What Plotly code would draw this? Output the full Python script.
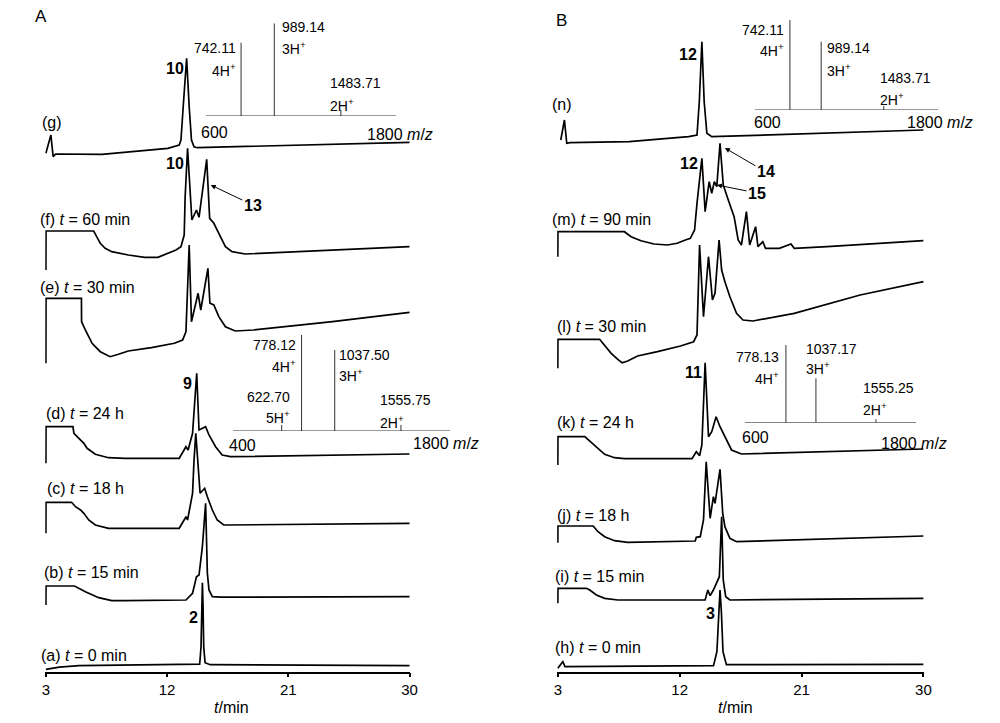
import plotly.graph_objects as go

# ---- panel A chromatograms (t in min, signal stacked above the axis) ----
a_t = [3.0, 4.0, 5.45, 9.0, 14.0, 14.42, 14.52, 14.57, 14.62, 14.67, 14.72, 14.82, 15.2, 30.0]
a_y = [2.4, 4.5, 6.0, 6.5, 6.7, 7.5, 25, 65, 89, 65, 25, 9, 7, 6.0]

b_t = [3.0, 3.01, 5.13, 5.93, 6.92, 7.89, 8.87, 13.4, 13.89, 14.18, 14.37, 14.62, 14.86, 14.99,
       15.11, 15.36, 16.0, 30.0]
b_y = [66.7, 85.7, 85.7, 80, 74, 71, 71, 71.7, 78.4, 95, 96.7, 125, 168.4, 98.4,
       81.7, 75, 74.5, 75]

c_t = [3.0, 3.01, 4.91, 5.2, 5.57, 5.82, 6.18, 6.67, 7.65, 12.9, 13.34, 13.4, 13.52, 13.89, 14.0,
       14.13, 14.45, 14.79, 14.99, 15.36, 15.72, 16.21, 16.46, 30.0]
c_y = [138.4, 169.4, 169.4, 165, 161.7, 158.4, 151.7, 146.7, 143.4, 143.4, 153.4, 155, 151.7, 178.4, 211.7,
       238.4, 178.4, 183.4, 175, 161.7, 151.7, 146.7, 146.7, 148.4]

d_t = [3.0, 3.01, 5.01, 5.08, 5.45, 5.82, 6.06, 6.67, 7.65, 8.87, 12.9, 13.4, 13.56, 13.89, 14.2,
       14.37, 14.86, 15.11, 15.6, 16.09, 16.7, 30.0]
d_y = [208.4, 245, 245, 238.4, 233.4, 228.4, 223.4, 217.4, 214, 213.4, 213.4, 225, 221.7, 238.4, 298.4,
       241.7, 245, 236.7, 225, 216.7, 215, 217.7]

e_t = [3.0, 3.01, 5.64, 5.65, 5.93, 6.43, 7.04, 7.77, 8.39, 9.12, 10.83, 12.54, 13.15, 13.4, 13.64,
       13.81, 14.3, 14.5, 15.03, 15.18, 15.47, 15.84, 16.33, 17.06, 18.41, 24.28, 30.0]
e_y = [308.4, 373.4, 373.4, 350, 341.7, 328.4, 320, 315, 317.4, 320.7, 324, 328.4, 331.7, 340, 426.7,
       350, 378.4, 361.7, 403.4, 368.4, 366.7, 355, 345, 340.7, 341.7, 350, 359.4]

f_t = [3.0, 3.01, 6.55, 6.79, 7.04, 7.4, 7.89, 9.12, 10.34, 11.32, 12.05, 12.66, 13.03, 13.27, 13.34,
       13.52, 13.84, 14.18, 14.37, 14.94, 15.16, 15.47, 15.96, 16.33, 16.82, 17.8, 30.0]
f_y = [401.7, 440.7, 440.7, 435, 428.4, 423.4, 420, 416.7, 414.4, 414.4, 418.4, 421.7, 425, 436.7, 475,
       523.4, 451.7, 461.7, 454.4, 512.4, 453.4, 448.4, 435, 425, 420, 417.7, 425]

g_t = [3.0, 3.37, 3.54, 3.73, 7.16, 8.39, 12.05, 12.9, 13.03, 13.23, 13.45, 13.64, 13.81, 14.0, 14.25, 30.0]
g_y = [518.4, 536.7, 515, 517.7, 517.4, 519, 523.4, 526.7, 531.7, 571.7, 613.4, 565, 531.7, 525, 524, 529.4]

# ---- panel B chromatograms ----
h_t = [3.0, 3.37, 3.53, 8.0, 14.5, 14.75, 14.88, 14.98, 15.08, 15.2, 15.45, 30.0]
h_y = [3.4, 10, 5, 5.5, 6, 20, 60, 81.7, 60, 20, 7, 7.4]

i_t = [3.0, 3.01, 5.12, 5.36, 5.85, 6.46, 7.43, 13.88, 14.08, 14.25, 14.49, 14.78, 14.93, 15.1,
       15.22, 15.4, 15.71, 30.0]
i_y = [68.4, 83.4, 83.4, 81.7, 76.7, 73.4, 71.7, 71.7, 81.7, 76, 81.7, 90, 95, 155,
       91.7, 75, 71.7, 73.4]

j_t = [3.0, 3.01, 5.61, 5.97, 6.46, 7.19, 8.16, 13.15, 13.23, 13.52, 13.76, 13.96, 14.25, 14.49,
       14.61, 14.74, 14.98, 15.18, 15.34, 15.71, 16.2, 30.0]
j_y = [129, 145.7, 145.7, 140, 135, 131, 129.4, 130.7, 134.4, 135, 151.7, 210, 153.4, 175,
       168.4, 180, 202.4, 158.4, 145, 133.4, 130, 135.7]

k_t = [3.0, 3.01, 4.99, 5.48, 5.97, 6.46, 7.19, 7.92, 12.91, 13.23, 13.47, 13.64, 13.88, 14.13,
       14.37, 14.69, 14.98, 15.34, 15.83, 16.56, 30.0]
k_y = [206.7, 235, 235, 229, 222.4, 217.4, 214, 213, 213, 220, 216, 226.7, 309, 235,
       240, 255, 245, 235, 221.7, 217.7, 222.7]

l_t = [3.0, 3.01, 6.09, 6.46, 6.94, 7.43, 7.75, 8.16, 8.89, 10.36, 12.06, 13.03, 13.28, 13.47,
       13.76, 14.13, 14.42, 14.61, 14.91, 15.1, 15.34, 15.71, 16.2, 16.68, 17.41, 20.46, 25.33, 30.0]
l_y = [303.4, 332.4, 332.4, 326.7, 318.4, 312.4, 309, 310.7, 315.7, 320, 325.7, 330, 336.7, 426.7,
       355, 415, 371.7, 378.4, 431.7, 401.7, 390, 375, 358.4, 351.7, 350.7, 358.4, 376.7, 390]

m_t = [3.0, 3.01, 7.92, 8.41, 9.14, 10.11, 11.09, 11.82, 12.42, 12.79, 13.1, 13.28, 13.64, 13.88,
       14.18, 14.37, 14.56, 14.74, 14.98, 15.22, 15.59, 15.83, 16.02, 16.32, 16.56, 16.93, 17.17,
       17.61, 17.78, 18.14, 18.34, 19.36, 20.22, 20.46, 22.89, 30.0]
m_y = [415, 440, 440, 435, 431, 427.7, 426.7, 428.4, 431.7, 433.4, 441.7, 468.4, 513.4, 460,
       490, 478.4, 490, 485, 528.4, 486.7, 471.7, 461.7, 455, 431.7, 426.7, 460, 426.7,
       445, 425, 430, 423.4, 423.4, 427.7, 423.4, 425, 431]

n_t = [3.22, 3.49, 3.66, 3.9, 8.28, 12.66, 13.28, 13.45, 13.64, 13.81, 14.01, 14.37, 30.0]
n_y = [531.7, 551.7, 528.4, 529, 530, 535, 536.7, 570, 630, 570, 538.4, 535, 541.7]

# ---- ESI-MS insets (m/z, relative intensity) ----
ms1_mz = [742.11, 989.14, 1483.71]
ms1_int = [79, 100, 6.5]
ms1_span = [480, 1896]

ms2_mz = [622.70, 778.12, 1037.50, 1555.75]
ms2_int = [6.3, 100, 84.4, 6.3]
ms2_span = [240, 1942]

ms3_mz = [742.11, 989.14, 1483.71]
ms3_int = [100, 75.9, 4.4]
ms3_span = [463, 1914]

ms4_mz = [778.13, 1037.17, 1555.25]
ms4_int = [100, 57.1, 4.4]
ms4_span = [422, 1902]

# page body has an 8px margin, so the figure is drawn 8px in from the window edge
PAD = 8
W, H = 1000 - 2 * PAD, 723 - 2 * PAD
FONT = "Liberation Sans"


def fx(px):
    return (px - PAD) / W


def fy(py):
    return 1 - (py - PAD) / H


fig = go.Figure()

line = dict(color="black", width=1.7)
for tt, yy in [(a_t, a_y), (b_t, b_y), (c_t, c_y), (d_t, d_y), (e_t, e_y), (f_t, f_y), (g_t, g_y)]:
    fig.add_trace(go.Scatter(x=tt, y=yy, mode="lines", line=line, xaxis="x", yaxis="y"))
for tt, yy in [(h_t, h_y), (i_t, i_y), (j_t, j_y), (k_t, k_y), (l_t, l_y), (m_t, m_y), (n_t, n_y)]:
    fig.add_trace(go.Scatter(x=tt, y=yy, mode="lines", line=line, xaxis="x2", yaxis="y2"))


def sticks(mz, inten):
    xs, ys = [], []
    for m, v in zip(mz, inten):
        xs += [m, m, None]
        ys += [0, v, None]
    return xs, ys


insets = [(ms1_mz, ms1_int, ms1_span, "3"), (ms2_mz, ms2_int, ms2_span, "4"),
          (ms3_mz, ms3_int, ms3_span, "5"), (ms4_mz, ms4_int, ms4_span, "6")]
for mz, inten, span, k in insets:
    xs, ys = sticks(mz, inten)
    fig.add_trace(go.Scatter(x=span, y=[0, 0], mode="lines", line=dict(color="#333", width=1),
                             xaxis="x" + k, yaxis="y" + k))
    fig.add_trace(go.Scatter(x=xs, y=ys, mode="lines", line=dict(color="#333", width=1),
                             xaxis="x" + k, yaxis="y" + k))

# axes
axis_base = dict(range=[2.95, 30.05], showline=True, linecolor="black", linewidth=1.5,
                 ticks="outside", ticklen=4, tickwidth=1.5, tickcolor="black",
                 tickvals=[3, 12, 21, 30], showgrid=False, zeroline=False,
                 tickfont=dict(family=FONT, size=15, color="black"))
AXIS_PY = 671.7
yhide = dict(domain=[fy(AXIS_PY), 1], range=[0, AXIS_PY - PAD], visible=False)

fig.update_layout(
    width=W, height=H, margin=dict(l=0, r=0, t=0, b=0),
    paper_bgcolor="white", plot_bgcolor="white", showlegend=False,
    font=dict(family=FONT, color="black"),
    xaxis=dict(domain=[fx(42.6), fx(411.7)], anchor="y", **axis_base),
    yaxis=dict(anchor="x", **yhide),
    xaxis2=dict(domain=[fx(560.3), fx(931.4)], anchor="y2", **axis_base),
    yaxis2=dict(anchor="x2", **yhide),
    xaxis3=dict(domain=[fx(205), fx(397.7)], range=ms1_span, visible=False, anchor="y3"),
    yaxis3=dict(domain=[fy(116), fy(23.3)], range=[0, 100], visible=False, anchor="x3"),
    xaxis4=dict(domain=[fx(232.3), fx(452.3)], range=ms2_span, visible=False, anchor="y4"),
    yaxis4=dict(domain=[fy(431), fy(335)], range=[0, 100], visible=False, anchor="x4"),
    xaxis5=dict(domain=[fx(760), fx(945.7)], range=ms3_span, visible=False, anchor="y5"),
    yaxis5=dict(domain=[fy(110), fy(20)], range=[0, 100], visible=False, anchor="x5"),
    xaxis6=dict(domain=[fx(750), fx(923.3)], range=ms4_span, visible=False, anchor="y6"),
    yaxis6=dict(domain=[fy(422.7), fy(345)], range=[0, 100], visible=False, anchor="x6"),
)


def note(text, px, py, anchor="left", size=16, bold=False):
    if bold:
        text = "<b>" + text + "</b>"
    fig.add_annotation(text=text, x=fx(px), y=fy(py), xref="paper", yref="paper",
                       xanchor=anchor, yanchor="middle", showarrow=False,
                       font=dict(family=FONT, size=size, color="black"))


# panel letters
note("A", 38, 17, "center", 17)
note("B", 565, 21, "center", 17)

# trace labels
for txt, px, py in [("(a) <i>t</i> = 0 min", 36, 655), ("(b) <i>t</i> = 15 min", 39, 572),
                    ("(c) <i>t</i> = 18 h", 42, 488), ("(d) <i>t</i> = 24 h", 41, 413),
                    ("(e) <i>t</i> = 30 min", 35, 287), ("(f) <i>t</i> = 60 min", 35, 220),
                    ("(g)", 37, 122),
                    ("(h) <i>t</i> = 0 min", 556, 647), ("(i) <i>t</i> = 15 min", 556, 576),
                    ("(j) <i>t</i> = 18 h", 558, 515), ("(k) <i>t</i> = 24 h", 558, 423),
                    ("(l) <i>t</i> = 30 min", 558, 327), ("(m) <i>t</i> = 90 min", 553, 220),
                    ("(n)", 553, 104)]:
    note(txt, px, py)

# peak numbers
for txt, px, py in [("2", 193, 617), ("9", 186, 383), ("10", 173.5, 163), ("10", 173.5, 68),
                    ("3", 715, 613), ("11", 698, 372), ("12", 694, 163), ("12", 692.5, 55)]:
    note(txt, px, py, "center", 16, True)

# arrowed labels
for txt, px, py, hx, hy in [("13", 252, 205, 210, 185), ("14", 771, 172, 730, 148),
                            ("15", 762, 193, 722, 185)]:
    fig.add_annotation(text="<b>" + txt + "</b>", x=fx(hx), y=fy(hy), xref="paper", yref="paper",
                       ax=px - hx, ay=py - hy, showarrow=True, arrowhead=2, arrowsize=1,
                       arrowwidth=1, arrowcolor="black",
                       font=dict(family=FONT, size=16, color="black"))

# MS labels
ms_notes = [
    ("742.11", 238, 48, "right"), ("4H<sup>+</sup>", 238, 70, "right"),
    ("989.14", 280, 27, "left"), ("3H<sup>+</sup>", 280, 48, "left"),
    ("1483.71", 329, 83, "left"), ("2H<sup>+</sup>", 329, 105, "left"),
    ("778.12", 298, 345, "right"), ("4H<sup>+</sup>", 298, 366, "right"),
    ("622.70", 292, 397, "right"), ("5H<sup>+</sup>", 292, 417, "right"),
    ("1037.50", 338, 355, "left"), ("3H<sup>+</sup>", 338, 375, "left"),
    ("1555.75", 379, 400, "left"), ("2H<sup>+</sup>", 379, 422, "left"),
    ("742.11", 792, 30, "right"), ("4H<sup>+</sup>", 792, 50, "right"),
    ("989.14", 831, 48, "left"), ("3H<sup>+</sup>", 831, 70, "left"),
    ("1483.71", 885, 78, "left"), ("2H<sup>+</sup>", 885, 99, "left"),
    ("778.13", 787, 357, "right"), ("4H<sup>+</sup>", 787, 378, "right"),
    ("1037.17", 810, 349, "left"), ("3H<sup>+</sup>", 810, 368, "left"),
    ("1555.25", 868, 388, "left"), ("2H<sup>+</sup>", 868, 409, "left"),
]
for txt, px, py, anc in ms_notes:
    note(txt, px, py, anc, 14)

for txt, px, py in [("600", 214, 132), ("1800 <i>m</i>/<i>z</i>", 401, 135),
                    ("400", 242, 445), ("1800 <i>m</i>/<i>z</i>", 448, 443),
                    ("600", 773, 123), ("1800 <i>m</i>/<i>z</i>", 947, 123),
                    ("600", 761, 437), ("1800 <i>m</i>/<i>z</i>", 921, 443)]:
    note(txt, px, py, "center", 16)

# axis titles
note("<i>t</i>/min", 231, 707, "center", 16)
note("<i>t</i>/min", 741, 707, "center", 16)

fig.write_html("out.html")
